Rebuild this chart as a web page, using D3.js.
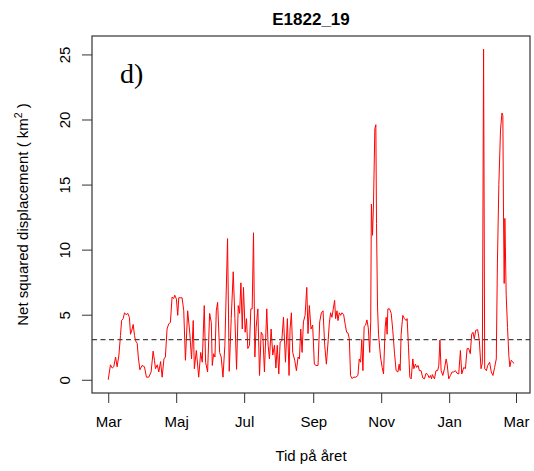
<!DOCTYPE html>
<html>
<head>
<meta charset="utf-8">
<script src="https://cdn.jsdelivr.net/npm/d3@7"></script>
<style>
  body { margin: 0; background: #fff; }
  text { font-family: "Liberation Sans", Arial, sans-serif; }
</style>
</head>
<body>
<div id="chart"></div>
<script>
// Days after 1 March 2019 and net squared displacement (km^2)
const dayOffset = [
  0, 2, 3.6, 5, 6.6, 8, 9.6, 11, 12, 13.4, 14.6, 16, 17.6, 19, 20, 21.5, 22.4, 23.6, 24.5, 26,
  27, 28.4, 30.4, 32.5, 34.3, 36.4, 38.5, 40.3, 41.5, 42.4, 44, 45.4, 47, 48.4, 50, 51.3, 52.8, 54.3, 55.8, 57.3,
  58.8, 59.7, 61.2, 62.4, 63.3, 66.3, 67.8, 69.3, 71.3, 73.2, 74.8, 76.3,
  77.3, 79.1, 81.2, 83, 84.4, 86.2, 87.4, 89.2, 91, 92.5, 93.4, 94.6, 95.8, 97, 98.2, 100, 101.4, 103,
  104.7, 105.9, 107.1, 108.6, 110.4, 112.2, 113.7, 115.2, 116.7, 117.9, 119.1, 120.3, 121.4, 122.9, 124.1, 125.3, 126.8, 128, 129.2, 130.4,
  131.6, 132.8, 134.3, 135.8, 137.3, 138.8, 140.2, 142.3, 143.5, 144.7, 146.2, 147.7, 149.2, 150.5,
  151.7, 153.1, 154.3, 155.8, 157.3, 159.1, 160.8, 162.3, 163.2, 164.4, 165.6, 167.4, 168.9, 170.4, 171.6, 172.8, 174, 175.2, 176.7, 178.2,
  179.3, 180.5, 182, 183.5, 185, 186.5, 188.3, 189.8, 191.3, 192.8, 194.3, 195.8, 197.3, 198.4, 199.6, 200.8, 202, 203.2, 204.1, 205.3,
  206.2, 207.4, 208.6, 209.8, 211.3, 212.8, 214, 215.2, 216.4, 217.5, 218.7, 220.5, 222.3, 224.1, 225.3, 226.5, 227.6, 228.6, 229.7, 231,
  232.2, 233.4, 234.7, 235.6,
  236.2, 237.2, 238.1, 239.3, 240.2, 240.8, 241.7, 242.6, 244.4, 245.9, 247.1, 248.6, 249.5, 250.3, 251, 252.5, 254, 255.4, 257, 258.4,
  260, 261.1, 262, 262.9, 264.4, 265.9, 267.4, 268.3, 269.5, 270.7, 271.9, 273.4, 274.3, 275.7, 276.9, 278.1, 279.3, 280.8, 282.3, 283.8,
  285.3, 286.8, 288, 289.2, 290.2, 290.9, 292.8, 294.2, 295.7, 296.7, 297.7, 298.8,
  300.3, 301.8, 303.3, 304.2, 305.6, 307.1, 308.6, 310.1, 311.6, 313.1, 314.6, 316.1, 317.3, 319.1, 320.6, 322.1, 323.5, 325, 326.2, 327.4,
  328.6, 329.8, 331.6, 333.1, 334.6, 335.8, 336.9, 337.9, 339.4, 340.6, 342.3, 343.8, 345.3, 346.8, 348.3, 349.3, 350.6, 352.1, 353.4, 354.2,
  354.8, 355.4, 356, 357.2, 358.4, 359.6, 360.5, 361.7, 362.9, 364
];
const nsd = [
  0, 1.15, 0.9, 1.0, 1.75, 1.0, 1.9, 3.4, 4.55, 4.7, 5.15, 5.0, 5.1, 4.8, 3.5, 3.9, 4.25, 3.4, 3.0, 2.8,
  1.75, 0.77, 1.1, 1.0, 0.2, 0.2, 0.6, 2.2, 1.5, 0.85, 1.15, 0.6, 1.4, 0.2, 1.6, 1.75, 3.9, 4.3, 4.4, 6.35,
  6.25, 6.5, 6.2, 4.95, 6.3, 6.3, 5.3, 1.5, 5.3, 3.6, 1.6, 4.55,
  0.85, 2.25, 0.2, 2.1, 1.35, 5.7, 1.35, 0.6, 5.1, 4.4, 1.1, 2.0, 1.75, 5.3, 5.95, 2.1, 1.75, 0.2,
  2.65, 6.75, 10.85, 0.65, 4.7, 8.3, 4.7, 0.8, 5.7, 5.1, 7.45, 3.9, 7.1, 3.65, 4.7, 2.4, 2.65, 5.45, 5.45, 11.3,
  1.75, 4.05, 5.45, 0.33, 3.65, 3.4, 0.6, 5.45, 2.65, 1.6, 3.9, 1.9, 2.65, 0.9,
  2.65, 0.45, 2.9, 3.0, 4.8, 1.35, 4.7, 0.33, 3.9, 5.15, 2.1, 1.5, 0.7, 1.75, 1.6, 3.9, 2.1, 4.45, 4.95, 7.1,
  3.55, 5.7, 3.9, 4.2, 1.2, 1.1, 1.1, 4.45, 5.15, 5.3, 2.65, 1.2, 2.9, 4.3, 5.15, 4.8, 5.45, 6.1, 4.7, 5.3,
  4.55, 5.15, 4.95, 5.15, 5.0, 4.2, 3.65, 3.6, 3.15, 0.33, 0.1, 0.2, 0.2, 0.33, 1.6, 1.35, 3.1, 0.7, 4.1, 4.2,
  4.6, 4.0, 2.1, 4.5,
  13.5, 11.1, 13.5, 19.3, 19.6, 12.0, 5.6, 3.5, 1.75, 0.95, 0.45, 4.05, 4.8, 3.5, 5.45, 5.45, 5.1, 3.8, 2.0, 0.7,
  0.6, 1.2, 0.7, 3.5, 4.95, 4.7, 4.55, 4.7, 2.5, 0.2, 0.07, 1.6, 0.85, 1.2, 0.95, 1.1, 0.7, 0.7, 0.15, 0.07,
  0.5, 0.4, 0.15, 0.33, 0.07, 0.4, 0.07, 0.7, 0.7, 1.1, 3.05, 0.7,
  0.33, 0.85, 1.6, 1.2, 0.07, 0.33, 0.6, 0.6, 0.7, 0.5, 0.45, 2.25, 0.45, 0.95, 0.85, 2.4, 2.4, 2.0, 3.5, 3.65,
  3.15, 3.8, 3.85, 3.0, 0.85, 1.3, 25.4, 0.85, 0.7, 1.1, 1.35, 0.6, 0.33, 0.95, 1.6, 8.9, 15.0, 19.2, 20.5, 20.3,
  12.5, 7.4, 12.4, 6.5, 4.0, 1.8, 1.0, 1.5, 1.4, 1.25
];
const meanLevel = 3.08;
const monthTicks = ["2019-03-01", "2019-05-01", "2019-07-01", "2019-09-01", "2019-11-01", "2020-01-01", "2020-03-01"];
const monthLabels = ["Mar", "Maj", "Jul", "Sep", "Nov", "Jan", "Mar"];
const yTicks = [0, 5, 10, 15, 20, 25];

const start = new Date(2019, 2, 1);
const DAY = 86400000;
const data = dayOffset.map((d, i) => ({ date: new Date(start.getTime() + d * DAY), v: nsd[i] }));

const W = 534, H = 471;
const box = { left: 92, right: 530, top: 36, bottom: 393 };

const svg = d3.select("#chart").append("svg")
  .attr("width", W)
  .attr("height", H);

// R style scales: data range padded by 4% on each side
const xExt = d3.extent(data, d => d.date.getTime());
const xPad = (xExt[1] - xExt[0]) * 0.04;
const x = d3.scaleTime()
  .domain([new Date(xExt[0] - xPad), new Date(xExt[1] + xPad)])
  .range([box.left, box.right]);

const yExt = d3.extent(nsd);
const yPad = (yExt[1] - yExt[0]) * 0.04;
const y = d3.scaleLinear()
  .domain([yExt[0] - yPad, yExt[1] + yPad])
  .range([box.bottom, box.top]);

// series line
const line = d3.line()
  .x(d => x(d.date))
  .y(d => y(d.v));

svg.append("path")
  .datum(data)
  .attr("fill", "none")
  .attr("stroke", "#ff0000")
  .attr("stroke-width", 1)
  .attr("stroke-linejoin", "round")
  .attr("d", line);

// dashed reference line
svg.append("line")
  .attr("x1", box.left).attr("x2", box.right)
  .attr("y1", y(meanLevel)).attr("y2", y(meanLevel))
  .attr("stroke", "#444")
  .attr("stroke-width", 1.2)
  .attr("stroke-dasharray", "5,3.5");

// box
svg.append("rect")
  .attr("x", box.left).attr("y", box.top)
  .attr("width", box.right - box.left)
  .attr("height", box.bottom - box.top)
  .attr("fill", "none")
  .attr("stroke", "#333")
  .attr("stroke-width", 1.2);

// x axis
const xAxis = svg.append("g")
  .attr("transform", `translate(0,${box.bottom})`)
  .call(d3.axisBottom(x)
    .tickValues(monthTicks.map(s => d3.timeParse("%Y-%m-%d")(s)))
    .tickFormat((d, i) => monthLabels[i])
    .tickSize(10)
    .tickSizeOuter(0));
xAxis.select(".domain").remove();
xAxis.selectAll("line").attr("stroke", "#333");
xAxis.selectAll("text")
  .attr("y", 34).attr("dy", 0)
  .attr("fill", "#000")
  .style("font-size", "15px")
  .style("font-family", "'Liberation Sans', Arial, sans-serif");

// y axis
const yAxis = svg.append("g")
  .attr("transform", `translate(${box.left},0)`)
  .call(d3.axisLeft(y).tickValues(yTicks).tickSize(10).tickSizeOuter(0));
yAxis.select(".domain").remove();
yAxis.selectAll("line").attr("stroke", "#333");
yAxis.selectAll("text")
  .attr("x", 0).attr("y", -22).attr("dy", 0)
  .attr("transform", "rotate(-90)")
  .attr("text-anchor", "middle")
  .attr("fill", "#000")
  .style("font-size", "15px")
  .style("font-family", "'Liberation Sans', Arial, sans-serif");

// titles
svg.append("text")
  .attr("x", (box.left + box.right) / 2)
  .attr("y", 25)
  .attr("text-anchor", "middle")
  .style("font-size", "17px")
  .style("font-weight", "bold")
  .text("E1822_19");

svg.append("text")
  .attr("x", (box.left + box.right) / 2)
  .attr("y", 461)
  .attr("text-anchor", "middle")
  .style("font-size", "15px")
  .text("Tid på året");

const yLab = svg.append("text")
  .attr("transform", `translate(28,${(box.top + box.bottom) / 2}) rotate(-90)`)
  .attr("text-anchor", "middle")
  .style("font-size", "15px");
yLab.append("tspan").text("Net squared displacement ( km");
yLab.append("tspan").attr("dy", -6).style("font-size", "10.5px").text("2");
yLab.append("tspan").attr("dy", 6).text(" )");

// panel letter
svg.append("text")
  .attr("x", 120)
  .attr("y", 83)
  .style("font-family", "'Liberation Serif', 'Times New Roman', serif")
  .style("font-size", "28px")
  .text("d)");
</script>
</body>
</html>
